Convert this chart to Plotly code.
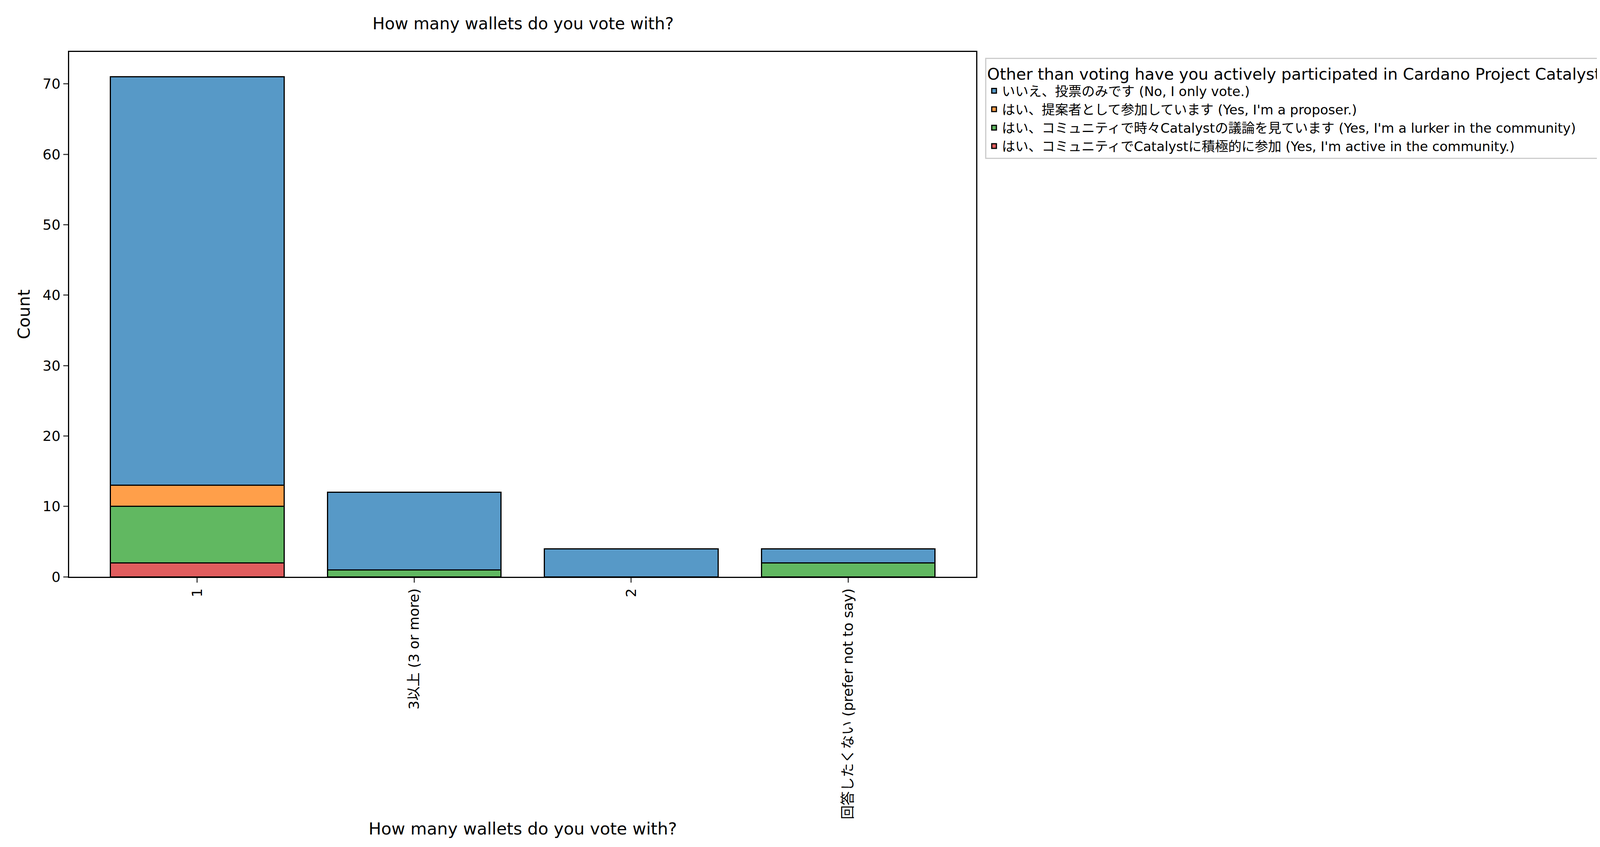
import plotly.graph_objects as go

# 回答データ
categories = ["1", "3以上 (3 or more)", "2", "回答したくない (prefer not to say)"]
series_names = [
    "いいえ、投票のみです (No, I only vote.)",
    "はい、提案者として参加しています (Yes, I'm a proposer.)",
    "はい、コミュニティで時々Catalystの議論を見ています (Yes, I'm a lurker in the community)",
    "はい、コミュニティでCatalystに積極的に参加 (Yes, I'm active in the community.)",
]
only_vote = [58, 11, 4, 2]
proposer = [3, 0, 0, 0]
lurker = [8, 1, 0, 2]
active = [2, 0, 0, 0]
colors = ["#5799c7", "#ff9f4a", "#61b861", "#e05d5e"]

FONT = "DejaVu Sans, Noto Sans CJK JP"
fig = go.Figure()
# stack from the bottom: active, lurker, proposer, only vote
for name, vals, col in reversed(list(zip(series_names, [only_vote, proposer, lurker, active], colors))):
    fig.add_trace(go.Bar(
        x=categories, y=vals, name=name, width=0.8,
        marker=dict(color=col, line=dict(color="black", width=3)),
    ))

fig.update_layout(
    barmode="stack",
    width=4497, height=2169,
    paper_bgcolor="white", plot_bgcolor="white",
    font=dict(family=FONT, size=36, color="black"),
    margin=dict(l=0, r=0, t=0, b=0),
    title=dict(text="How many wallets do you vote with?", x=0.296, xanchor="center",
               y=0.976, yanchor="middle", font=dict(size=42)),
    xaxis=dict(domain=[0.0376, 0.554], range=[-0.59, 3.59], showline=True, linecolor="black",
               linewidth=3, mirror=True, ticks="outside", ticklen=12, tickwidth=3,
               tickangle=-90, title=dict(text="How many wallets do you vote with?", standoff=10)),
    yaxis=dict(domain=[0.316, 0.942], range=[0, 74.55], showline=True, linecolor="black",
               linewidth=3, mirror=True, ticks="outside", ticklen=12, tickwidth=3,
               dtick=10, showgrid=False, zeroline=False,
               title=dict(text="Count", standoff=20)),
    legend=dict(x=0.559, y=0.935, xanchor="left", yanchor="top", traceorder="reversed",
                bordercolor="#cccccc", borderwidth=3,
                title=dict(text="Other than voting have you actively participated in Cardano Project Catalyst?",
                           side="top center"),
                font=dict(size=34)),
)
fig.write_html("out.html")
